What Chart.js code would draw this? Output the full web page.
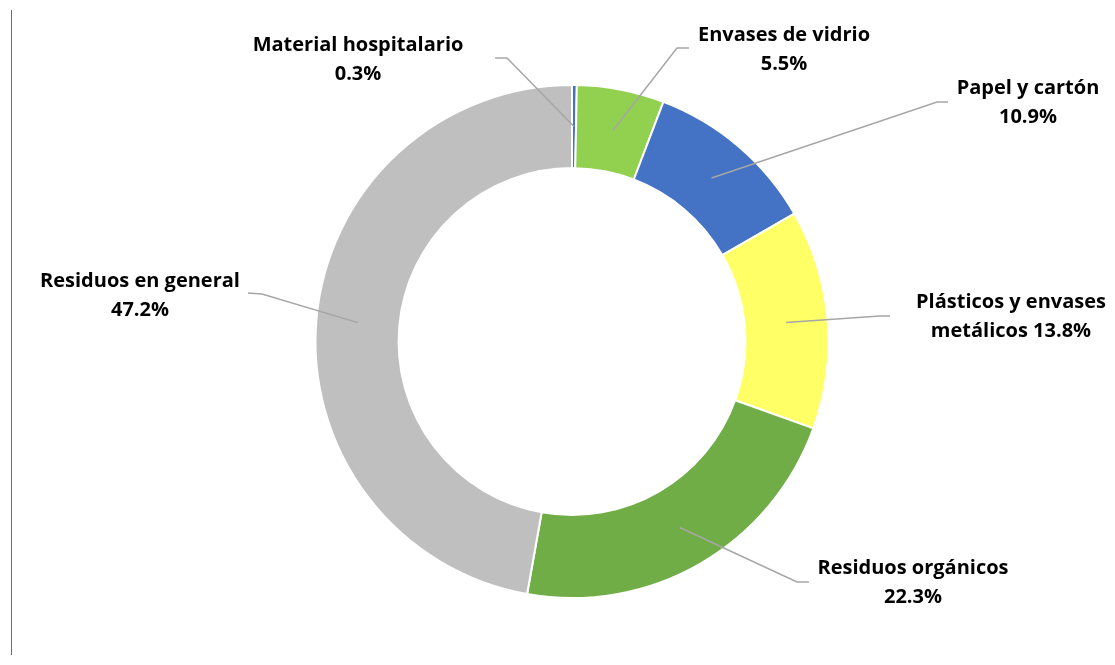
<!DOCTYPE html>
<html>
<head>
<meta charset="utf-8">
<script src="https://cdn.jsdelivr.net/npm/chart.js@4"></script>
<style>
  html, body { margin: 0; padding: 0; background: #fff; }
  #wrap { position: relative; width: 1115px; height: 665px; }
  #edge { position: absolute; left: 11px; top: 10px; width: 0; height: 645px; border-left: 1px solid #4a72c0; }
</style>
</head>
<body>
<div id="wrap">
  <div id="edge"></div>
  <canvas id="chart" width="1115" height="665"></canvas>
</div>
<script>
// Waste composition (share of total, %), clockwise from 12 o'clock.
const categories = [
  'Material hospitalario',
  'Envases de vidrio',
  'Papel y cartón',
  'Plásticos y envases metálicos',
  'Residuos orgánicos',
  'Residuos en general',
];
const shares = [0.3, 5.5, 10.9, 13.8, 22.3, 47.2];
const colors = ['#4472C4', '#92D050', '#4472C4', '#FFFF66', '#70AD47', '#BFBFBF'];

// Where each label sits: text block centre, leader elbow, leader end.
const labelLayout = [
  { tx: 358,  ty: 60,  elbow: [507, 58],  end: [495, 58] },
  { tx: 784,  ty: 50,  elbow: [677, 48],  end: [689, 48] },
  { tx: 1028, ty: 103, elbow: [937, 102], end: [948, 102] },
  { tx: 1011, ty: 317, elbow: [880, 316], end: [890, 316], wrap: 'Plásticos y envases|metálicos' },
  { tx: 913,  ty: 583, elbow: [797, 582], end: [809, 582] },
  { tx: 140,  ty: 296, elbow: [262, 294], end: [248, 293] },
];

const fmtPct = (v) => v.toFixed(1) + '%';

function labelLines(i) {
  const lay = labelLayout[i];
  const pct = fmtPct(shares[i]);
  if (lay.wrap) {
    const [a, b] = lay.wrap.split('|');
    return [a, b + ' ' + pct];
  }
  return [categories[i], pct];
}

// Leader lines start at mid-ring, mid-angle of each arc.
const calloutPlugin = {
  id: 'callouts',
  afterDraw(chart) {
    const ctx = chart.ctx;
    const arcs = chart.getDatasetMeta(0).data;
    ctx.save();
    arcs.forEach((arc, i) => {
      const p = arc.getProps(['x', 'y', 'startAngle', 'endAngle', 'innerRadius', 'outerRadius'], true);
      const mid = (p.startAngle + p.endAngle) / 2;
      const r = (p.innerRadius + p.outerRadius) / 2;
      const sx = p.x + Math.cos(mid) * r;
      const sy = p.y + Math.sin(mid) * r;
      const lay = labelLayout[i];

      ctx.strokeStyle = '#A6A6A6';
      ctx.lineWidth = 1.5;
      ctx.beginPath();
      ctx.moveTo(sx, sy);
      ctx.lineTo(lay.elbow[0], lay.elbow[1]);
      ctx.lineTo(lay.end[0], lay.end[1]);
      ctx.stroke();

      ctx.fillStyle = '#000';
      ctx.font = 'bold 20px "Open Sans", Lato, sans-serif';
      ctx.textAlign = 'center';
      ctx.textBaseline = 'middle';
      const lines = labelLines(i);
      lines.forEach((t, k) => {
        ctx.fillText(t, lay.tx, lay.ty + (k - (lines.length - 1) / 2) * 28.5);
      });
    });
    ctx.restore();
  },
};

new Chart(document.getElementById('chart'), {
  type: 'doughnut',
  data: {
    labels: categories,
    datasets: [{
      data: shares,
      backgroundColor: colors,
      borderColor: '#ffffff',
      borderWidth: 2,
    }],
  },
  options: {
    responsive: false,
    animation: false,
    cutout: '67.6%',
    layout: { padding: { left: 29, right: 0, top: 84, bottom: 66 } },
    plugins: {
      legend: { display: false },
      tooltip: { enabled: false },
    },
  },
  plugins: [calloutPlugin],
});
</script>
</body>
</html>
